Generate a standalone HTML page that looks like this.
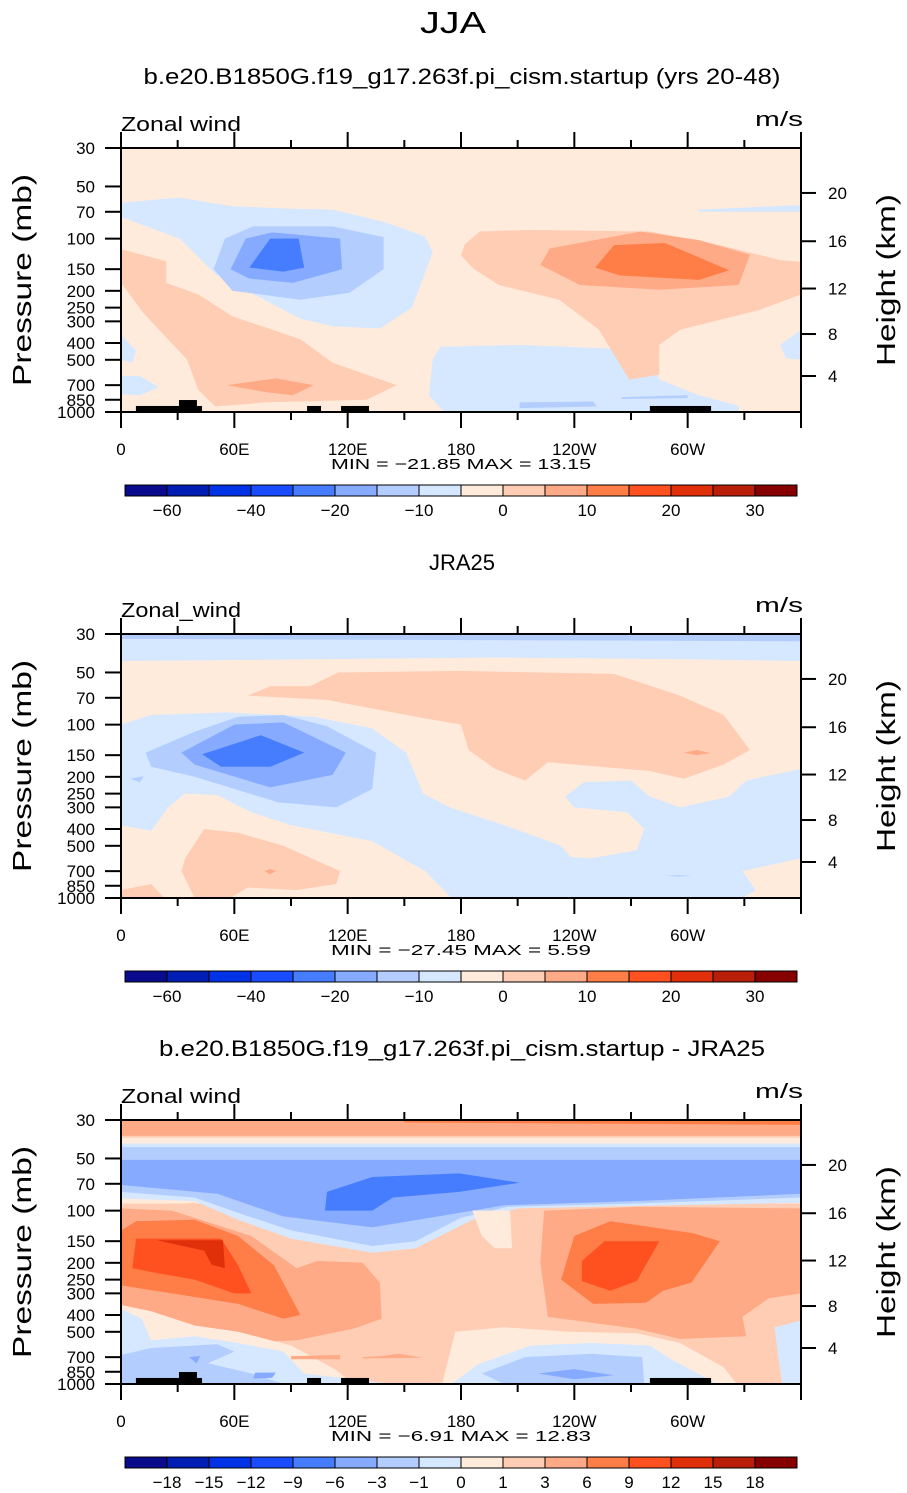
<!DOCTYPE html>
<html><head><meta charset="utf-8"><style>
html,body{margin:0;padding:0;background:#fff;}
svg{display:block;}
text{font-family:"Liberation Sans",sans-serif;fill:#000;}
</style></head><body>
<svg id="chart" width="907" height="1493" viewBox="0 0 907 1493" xmlns="http://www.w3.org/2000/svg">
<text x="453" y="33" font-size="31" text-anchor="middle" textLength="66" lengthAdjust="spacingAndGlyphs">JJA</text>
</svg>
<script>
// ---------- data ----------
const pressureTicks = [30,50,70,100,150,200,250,300,400,500,700,850,1000];
const heightTicks = [20,16,12,8,4];
const heightTickPressure = [54.5, 103.5, 194, 355, 620];
const lonTicks = [0,60,120,180,240,300];
const lonTickLabels = ["0","60E","120E","180","120W","60W"];
const colors = ["#0a0a8c","#001eb4","#0032e6","#194bff","#467dff","#85aaff","#b3cdff","#d5e8ff","#ffebdc","#ffcdb4","#ffaa87","#ff7d46","#ff5020","#e0300a","#b91e08","#870000"];
const levelsFull = ["","\u221260","","\u221240","","\u221220","","\u221210","","0","","10","","20","","30"];
const levelsDiff = ["","\u221218","\u221215","\u221212","\u22129","\u22126","\u22123","\u22121","0","1","3","6","9","12","15","18"];
const panelTitles = ["b.e20.B1850G.f19_g17.263f.pi_cism.startup (yrs 20-48)","JRA25","b.e20.B1850G.f19_g17.263f.pi_cism.startup - JRA25"];
const panelLeft = ["Zonal wind","Zonal_wind","Zonal wind"];
const panelMin = ["\u221221.85","\u221227.45","\u22126.91"];
const panelMax = ["13.15","5.59","12.83"];
// topography blocks [lon0, lon1, pTop]
const topo = [[7.9,42.9,923],[30.7,40.2,853],[98.5,105.9,923],[116.5,131.3,923],[280,312.4,923]];

// contour fill polygons: [colorIndex, [[lon,p],...]]
const panel1 = [
 [7,[[0,62],[31,58],[59,65],[86,67],[112,68],[139,80],[161,97],[165,120],[154,250],[137,330],[112,320],[95,290],[50,160],[31,100],[0,75]]],
 [6,[[49,150],[55,100],[70,85],[112,85],[139,98],[139,150],[121,205],[95,225],[59,200]]],
 [5,[[58,150],[66,100],[80,92],[116,100],[117,150],[91,180],[68,170]]],
 [4,[[68,147],[79,100],[94,100],[97,147],[86,155]]],
 [9,[[0,115],[24,135],[24,180],[41,210],[59,280],[95,380],[112,520],[146,700],[130,850],[77,880],[50,930],[41,750],[35,500],[12,270],[0,180]]],
 [10,[[56,700],[82,640],[102,700],[91,800],[77,770]]],
 [7,[[0,360],[8,440],[6,520],[0,500]]],
 [7,[[0,620],[10,620],[20,720],[10,800],[0,790]]],
 [7,[[163,800],[165,500],[169,420],[211,410],[280,440],[285,650],[306,800],[327,920],[327,1000],[171,1000]]],
 [6,[[211,880],[250,870],[252,930],[211,950]]],
 [6,[[265,820],[300,800],[300,830],[265,840]]],
 [9,[[180,125],[182,108],[190,91],[216,89],[280,91],[317,109],[349,133],[360,136],[360,210],[338,258],[296,335],[285,410],[285,610],[269,650],[253,335],[232,225],[200,185],[187,150]]],
 [10,[[222,142],[227,114],[275,91],[306,102],[333,124],[327,185],[285,197],[243,185]]],
 [11,[[251,147],[261,109],[288,106],[322,152],[306,173],[264,163]]],
 [7,[[306,68],[360,64],[360,70],[306,70]]],
 [7,[[349,410],[360,335],[360,500],[352,490]]]
];
const panel2 = [
 [7,[[0,30],[360,30],[360,43],[300,42],[200,41],[100,42],[0,43]]],
 [6,[[0,30],[360,30],[360,33],[0,32]]],
 [9,[[67,68],[79,60],[100,60],[115,50],[179,49],[261,51],[296,68],[319,88],[333,140],[319,170],[298,205],[280,185],[226,165],[214,210],[198,180],[184,140],[180,100],[156,90],[109,72]]],
 [10,[[298,145],[305,140],[312,146],[305,150]]],
 [7,[[0,100],[16,88],[55,85],[102,90],[133,105],[151,145],[160,250],[174,300],[203,380],[233,500],[238,580],[249,590],[273,530],[277,400],[268,320],[240,300],[235,260],[245,215],[270,210],[280,260],[296,300],[322,260],[331,210],[360,180],[360,590],[329,700],[336,900],[329,1000],[175,1000],[161,700],[133,470],[90,380],[69,320],[51,255],[34,250],[25,300],[16,410],[0,380]]],
 [9,[[34,590],[44,400],[62,420],[86,500],[116,700],[114,830],[93,900],[67,870],[58,1000],[39,1000],[32,700]]],
 [9,[[0,900],[16,830],[23,1000],[0,1000]]],
 [10,[[76,700],[79,680],[82,700],[79,730]]],
 [6,[[13,145],[39,110],[62,90],[86,88],[109,102],[135,145],[133,235],[114,300],[83,280],[39,200],[16,175]]],
 [5,[[32,145],[60,100],[86,97],[119,145],[112,195],[79,230],[39,170]]],
 [4,[[43,148],[74,115],[97,145],[79,175],[53,175]]],
 [6,[[5,205],[12,198],[10,215]]],
 [6,[[288,745],[295,738],[302,745],[295,752]]]
];
const panel3 = [
 [10,[[0,30],[360,30],[360,37],[0,37]]],
 [11,[[150,30],[360,30],[360,32],[150,31]]],
 [8,[[0,38],[360,38],[360,91],[0,91]]],
 [7,[[0,41],[360,41],[360,90],[210,97],[186,113],[156,165],[133,175],[90,145],[62,113],[39,88],[0,85]]],
 [6,[[0,43],[360,43],[360,84],[273,91],[205,95],[180,110],[156,150],[133,160],[90,130],[62,103],[39,84],[0,78]]],
 [5,[[0,51],[360,51],[360,80],[273,88],[203,93],[168,108],[133,125],[86,108],[51,80],[0,71]]],
 [4,[[108,100],[109,78],[133,64],[179,61],[211,69],[179,78],[144,84],[133,100]]],
 [9,[[0,97],[39,90],[62,117],[90,150],[133,180],[156,170],[186,117],[210,100],[273,96],[360,92],[360,1000],[0,1000]]],
 [8,[[186,100],[206,100],[207,165],[198,165],[191,140]]],
 [10,[[0,97],[27,100],[69,140],[93,215],[104,195],[128,200],[137,260],[138,420],[123,480],[93,560],[62,580],[39,480],[16,420],[0,380]]],
 [11,[[0,130],[8,115],[39,113],[62,140],[81,207],[95,400],[86,420],[62,345],[27,300],[0,270]]],
 [12,[[8,145],[18,145],[53,145],[62,207],[69,300],[60,300],[39,250],[20,230],[6,215]]],
 [13,[[19,148],[54,148],[55,215],[48,205],[44,170],[27,155]]],
 [10,[[224,100],[273,95],[360,97],[360,300],[343,320],[329,410],[331,530],[296,550],[273,480],[226,410],[222,200]]],
 [11,[[233,250],[240,140],[259,115],[303,135],[317,150],[302,260],[287,290],[278,340],[250,345]]],
 [12,[[244,255],[244,195],[256,150],[285,150],[273,255],[259,290]]],
 [8,[[0,350],[16,380],[39,460],[62,500],[90,600],[114,830],[123,1000],[0,1000]]],
 [7,[[0,370],[11,420],[16,560],[39,530],[62,580],[86,650],[97,870],[144,1000],[0,1000]]],
 [6,[[0,680],[16,620],[51,590],[60,650],[46,760],[69,870],[86,1000],[0,1000]]],
 [5,[[36,700],[42,690],[40,760]]],
 [5,[[71,860],[82,860],[80,920],[70,930]]],
 [8,[[170,1000],[177,500],[203,470],[237,500],[273,510],[296,580],[319,800],[326,1000]]],
 [7,[[175,1000],[189,770],[217,600],[249,580],[280,600],[291,720],[308,900],[315,1000]]],
 [6,[[191,870],[214,700],[249,670],[276,700],[277,1000],[203,1000]]],
 [5,[[221,870],[240,820],[261,890],[240,940]]],
 [9,[[343,420],[360,370],[360,1000],[341,1000],[343,680]]],
 [7,[[346,470],[360,430],[360,1000],[350,1000],[348,700]]],
 [10,[[90,690],[116,680],[116,720],[90,720]]],
 [10,[[128,700],[138,690],[147,670],[160,705],[128,712]]]
];
const panels = [panel1, panel2, panel3];
const colorbarLabels = [levelsFull, levelsFull, levelsDiff];

// ---------- axes ----------
const NS = "http://www.w3.org/2000/svg";
const svg = document.getElementById("chart");
const PL = 121, PR = 801, PT = 148, PH = 264, OFF = 486;
function X(lon){ return PL + lon/360*(PR-PL); }
function Y(p, k){ return PT + k*OFF + Math.log(p/30)/Math.log(1000/30)*PH; }
function mk(tag, attrs, parent){
  const e = document.createElementNS(NS, tag);
  for (const a in attrs) e.setAttribute(a, attrs[a]);
  (parent||svg).appendChild(e);
  return e;
}
function txt(s, x, y, size, anchor, parent, extra){
  const t = mk("text", Object.assign({x:x, y:y, "font-size":size, "text-anchor":anchor||"start"}, extra||{}), parent);
  t.textContent = s;
  return t;
}

const defs = mk("defs", {});
for (let k=0;k<3;k++){
  const cp = mk("clipPath", {id:"clip"+k}, defs);
  mk("rect", {x:PL, y:PT+k*OFF, width:PR-PL, height:PH}, cp);
}

for (let k=0;k<3;k++){
  const off = k*OFF;
  const g = mk("g", {});
  
  

  const title = txt(panelTitles[k], 462, 84+off, 22, "middle", g, k===1?{}:{textLength: k===0?637:606, lengthAdjust:"spacingAndGlyphs"});
  
  

  const lt = txt(panelLeft[k], 121, 131+off, 20, "start", g, {textLength:120, lengthAdjust:"spacingAndGlyphs"});
  
  
  const ut = txt("m/s", 803, 126+off, 20, "end", g, {textLength:48, lengthAdjust:"spacingAndGlyphs"});
  
  

  const plot = mk("g", {"clip-path":"url(#clip"+k+")"}, g);
  
  
  const bg = mk("rect", {x:PL, y:PT+off, width:PR-PL, height:PH, fill: k===2 ? colors[9] : colors[8]}, plot);
  
  
  panels[k].forEach(function(c){
    const pts = c[1].map(function(q){ return X(q[0]).toFixed(1)+","+Y(q[1],k).toFixed(1); }).join(" ");
    const poly = mk("polygon", {points:pts, fill:colors[c[0]]}, plot);
    
    
  });
  if (k !== 1){
    topo.forEach(function(b){
      const r = mk("rect", {x:X(b[0]), y:Y(b[2],k), width:X(b[1])-X(b[0]), height:Y(1000,k)-Y(b[2],k), fill:"#000"}, plot);
      
      
    });
  }
  const frame = mk("rect", {x:PL, y:PT+off, width:PR-PL, height:PH, fill:"none", stroke:"#000", "stroke-width":2}, g);
  
  

  pressureTicks.forEach(function(p){
    const y = Y(p,k);
    const l = mk("line", {x1:105, x2:PL, y1:y, y2:y, stroke:"#000", "stroke-width":2}, g);
    
    
    const t = txt(String(p), 95, y+6, 17, "end", g);
    
    
  });
  heightTicks.forEach(function(h,i){
    const y = Y(heightTickPressure[i],k);
    const l = mk("line", {x1:PR, x2:816, y1:y, y2:y, stroke:"#000", "stroke-width":2}, g);
    
    
    const t = txt(String(h), 828, y+6, 17, "start", g);
    
    
  });
  for (let lon=0; lon<=360; lon+=30){
    const x = X(lon), major = lon%60===0;
    const b = mk("line", {x1:x, x2:x, y1:PT+PH+off, y2:PT+PH+off+(major?16:8), stroke:"#000", "stroke-width":2}, g);
    
    
    const t2 = mk("line", {x1:x, x2:x, y1:PT+off, y2:PT+off-(major?16:8), stroke:"#000", "stroke-width":2}, g);
    
    
  }
  lonTicks.forEach(function(lon,i){
    const t = txt(lonTickLabels[i], X(lon), 455+off, 17, "middle", g);
    
    
  });
  const mm = txt("MIN =  "+panelMin[k]+"   MAX =   "+panelMax[k], 461, 469+off, 15, "middle", g, {"xml:space":"preserve", textLength:260, lengthAdjust:"spacingAndGlyphs"});
  
  

  const yl = txt("Pressure (mb)", 0, 0, 26, "middle", g, {transform:"translate(31,"+(280+off)+") rotate(-90)", textLength:212, lengthAdjust:"spacingAndGlyphs"});
  
  
  const hl = txt("Height (km)", 0, 0, 26, "middle", g, {transform:"translate(895,"+(280+off)+") rotate(-90)", textLength:172, lengthAdjust:"spacingAndGlyphs"});
  
  

  const cb = mk("g", {}, g);
  
  
  const bw = 42, bx = 125, by = 485+off;
  colors.forEach(function(c,i){
    const r = mk("rect", {x:bx+i*bw, y:by, width:bw, height:11, fill:c, stroke:"#000", "stroke-width":1}, cb);
    
    
  });
  colorbarLabels[k].forEach(function(s,i){
    if (!s) return;
    const t = txt(s, bx+i*bw, 516+off, 17, "middle", cb);
    
    
  });
}
</script>
</body></html>
